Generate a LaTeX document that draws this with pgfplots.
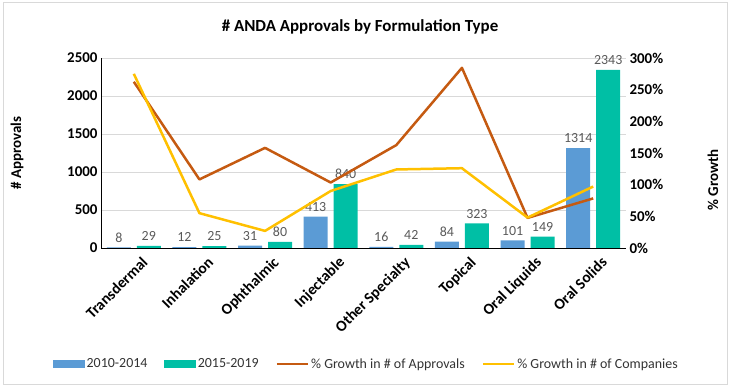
\documentclass[border=0pt]{standalone}
\usepackage{fontspec}
\setmainfont{Carlito}
\usepackage{pgfplots}
\usepackage{pgfplotstable}
\pgfplotsset{compat=1.18}
\definecolor{cBlue}{HTML}{5B9BD5}
\definecolor{cTeal}{HTML}{00BFA5}
\definecolor{cOrange}{HTML}{C55A11}
\definecolor{cYellow}{HTML}{FFC000}
\definecolor{cGrid}{HTML}{D9D9D9}
\definecolor{cLabel}{HTML}{595959}

\pgfplotstableread{
x a b
0 8 29
1 12 25
2 31 80
3 413 840
4 16 42
5 84 323
6 101 149
7 1314 2343
}\bars

\pgfplotstableread{
x appr comp
0 262.5 275
1 108.3 55
2 158.1 27
3 103.4 90
4 162.5 124
5 284.5 126
6 47.5 48
7 78.3 97
}\growth

\begin{document}
\begin{tikzpicture}
\path[use as bounding box] (0,0) rectangle (735bp,391bp);
\draw[cGrid, line width=1bp] (3bp,6bp) rectangle (727bp,388bp);
\node[font=\fontsize{17}{20}\selectfont\bfseries] at (360bp,364.5bp) {\# ANDA Approvals by Formulation Type};

\begin{axis}[
  at={(101bp,143bp)}, anchor=south west,
  scale only axis, width=525bp, height=190bp,
  xmin=-0.5, xmax=7.5, ymin=0, ymax=2500,
  ytick={0,500,...,2500},
  scaled y ticks=false,
  /pgf/number format/1000 sep={},
  /pgf/number format/assume math mode=true,
  axis x line*=bottom, axis y line*=left,
  axis line style={black, line width=1bp},
  major tick length=0pt,
  ymajorgrids, major grid style={cGrid, line width=0.8bp},
  xtick={0,...,7},
  xticklabels={Transdermal,Inhalation,Ophthalmic,Injectable,Other Specialty,Topical,Oral Liquids,Oral Solids},
  xticklabel style={rotate=45, anchor=north east, xshift=3bp, yshift=-7bp, font=\fontsize{15.5}{17}\selectfont\bfseries},
  yticklabel style={font=\fontsize{15}{18}\selectfont\bfseries},
  every axis y label/.style={at={(axis description cs:-0.16,0.5)}, rotate=90, anchor=center, font=\fontsize{15}{18}\selectfont\bfseries},
  ylabel={\# Approvals},
  ybar=6bp, bar width=24bp,
  nodes near coords,
  every node near coord/.append style={font=\fontsize{14}{16}\selectfont, text=cLabel, anchor=south, inner sep=0pt, yshift=5bp},
]
\addplot[fill=cBlue, draw=none] table[x=x, y=a] {\bars};
\addplot[fill=cTeal, draw=none] table[x=x, y=b] {\bars};
\end{axis}

\begin{axis}[
  at={(101bp,143bp)}, anchor=south west,
  scale only axis, width=525bp, height=190bp,
  xmin=-0.5, xmax=7.5, ymin=0, ymax=300,
  ytick={0,50,...,300},
  /pgf/number format/assume math mode=true,
  axis x line=none, axis y line*=right,
  y axis line style={draw=none},
  major tick length=0pt,
  yticklabel={\pgfmathprintnumber{\tick}\%},
  yticklabel style={font=\fontsize{15}{18}\selectfont\bfseries, anchor=west},
  every axis y label/.style={at={(axis description cs:1.1657,0.358)}, rotate=90, anchor=center, font=\fontsize{15}{18}\selectfont\bfseries},
  ylabel={\% Growth},
  legend columns=4,
  legend style={at={(axis description cs:0.5057,-0.6105)}, anchor=center, draw=none, fill=none,
    font=\fontsize{14}{16}\selectfont, text=black!80,
    /tikz/every even column/.append style={column sep=15bp},
    nodes={inner xsep=2bp}},
  legend image code/.code={\draw[#1, line width=2.5bp] (0bp,0bp) -- (31bp,0bp);},
]
\addlegendimage{legend image code/.code={\fill[cBlue] (0bp,-3.5bp) rectangle (31bp,3.5bp);}}
\addlegendentry{2010-2014}
\addlegendimage{legend image code/.code={\fill[cTeal] (0bp,-3.5bp) rectangle (31bp,3.5bp);}}
\addlegendentry{2015-2019}
\addplot[cOrange, line width=2.5bp, line join=round, mark=none] table[x=x, y=appr] {\growth};
\addlegendentry{\% Growth in \# of Approvals}
\addplot[cYellow, line width=2.5bp, line join=round, mark=none] table[x=x, y=comp] {\growth};
\addlegendentry{\% Growth in \# of Companies}
\end{axis}
\end{tikzpicture}
\end{document}
